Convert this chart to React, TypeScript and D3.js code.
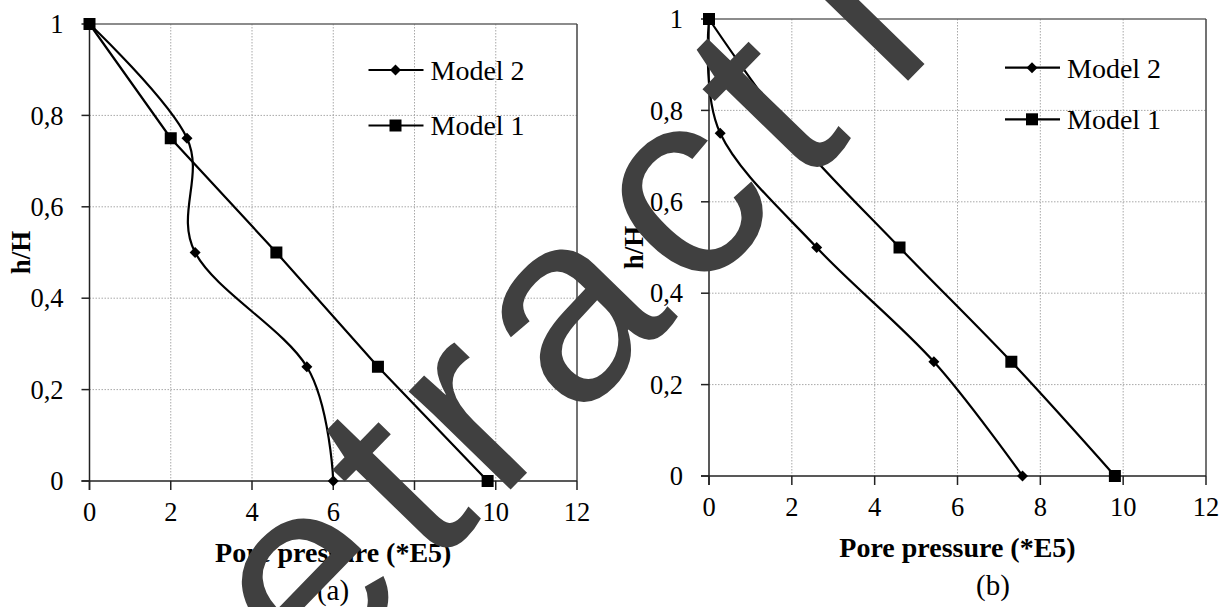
import React from "react";
import * as d3 from "d3";

// h/H levels shared by every series
const levels = [1, 0.75, 0.5, 0.25, 0];

// pore pressure (*E5)
const aModel1 = [0, 2, 4.6, 7.1, 9.8];
const aModel2 = [0, 2.4, 2.6, 5.35, 6.0];
const bModel1 = [0, 2, 4.6, 7.3, 9.8];
const bModel2 = [0, 0.27, 2.6, 5.43, 7.57];

const xTicks = [0, 2, 4, 6, 8, 10, 12];
const yTicks = [0, 0.2, 0.4, 0.6, 0.8, 1];
const yTickLabels = ["0", "0,2", "0,4", "0,6", "0,8", "1"];

const seriesNames = ["Model 2", "Model 1"];

const serif = "'Liberation Serif', 'Times New Roman', serif";

const diamond = (r) => `M0,${-r}L${r},0L0,${r}L${-r},0Z`;

function Panel({ x0, x1, y0, y1, m1, m2, smooth1, caption, capX, legX, legY, yTitleX }) {
  const x = d3.scaleLinear().domain([0, 12]).range([x0, x1]);
  const y = d3.scaleLinear().domain([0, 1]).range([y1, y0]);

  const pts1 = m1.map((v, i) => [x(v), y(levels[i])]);
  const pts2 = m2.map((v, i) => [x(v), y(levels[i])]);

  const line1 = d3.line().curve(smooth1 ? d3.curveCatmullRom.alpha(0) : d3.curveLinear);
  const line2 = d3.line().curve(d3.curveCatmullRom.alpha(0));

  const cx = (x0 + x1) / 2;
  const cy = (y0 + y1) / 2;

  return (
    <g>
      {/* grid */}
      {xTicks.slice(1, -1).map((t) => (
        <line key={"gx" + t} x1={x(t)} x2={x(t)} y1={y0} y2={y1} stroke="#a8a8a8" strokeWidth={1} strokeDasharray="1.5,1.5" />
      ))}
      {yTicks.slice(1, -1).map((t) => (
        <line key={"gy" + t} x1={x0} x2={x1} y1={y(t)} y2={y(t)} stroke="#a8a8a8" strokeWidth={1} strokeDasharray="1.5,1.5" />
      ))}
      {/* frame */}
      <line x1={x0} x2={x1} y1={y0} y2={y0} stroke="#666" strokeWidth={1.5} />
      <line x1={x1} x2={x1} y1={y0} y2={y1} stroke="#444" strokeWidth={1.5} />
      <line x1={x0} x2={x0} y1={y0} y2={y1 + 9} stroke="#222" strokeWidth={1.5} />
      <line x1={x0 - 8} x2={x1} y1={y1} y2={y1} stroke="#222" strokeWidth={1.5} />
      {xTicks.map((t) => (
        <g key={"xt" + t}>
          <line x1={x(t)} x2={x(t)} y1={y1} y2={y1 + 9} stroke="#222" strokeWidth={1.5} />
          <text x={x(t)} y={y1 + 40} textAnchor="middle" fontFamily={serif} fontSize={26.5}>
            {t}
          </text>
        </g>
      ))}
      {yTicks.map((t, i) => (
        <g key={"yt" + t}>
          <line x1={x0 - 8} x2={x0} y1={y(t)} y2={y(t)} stroke="#222" strokeWidth={1.5} />
          <text x={x0 - 26} y={y(t)} dy="0.35em" textAnchor="end" fontFamily={serif} fontSize={26.5}>
            {yTickLabels[i]}
          </text>
        </g>
      ))}
      {/* series */}
      <path d={line1(pts1)} fill="none" stroke="#000" strokeWidth={2.2} />
      <path d={line2(pts2)} fill="none" stroke="#000" strokeWidth={2.2} />
      {pts1.map((p, i) => (
        <rect key={"s" + i} x={p[0] - 6} y={p[1] - 6} width={12} height={12} fill="#000" />
      ))}
      {pts2.map((p, i) => (
        <path key={"d" + i} d={diamond(5.5)} transform={`translate(${p[0]},${p[1]})`} fill="#000" />
      ))}
      {/* legend */}
      {seriesNames.map((name, i) => {
        const ly = legY[i];
        return (
          <g key={name}>
            <line x1={legX} x2={legX + 55} y1={ly} y2={ly} stroke="#000" strokeWidth={2.2} />
            {i === 0 ? (
              <path d={diamond(5.5)} transform={`translate(${legX + 27},${ly})`} fill="#000" />
            ) : (
              <rect x={legX + 21} y={ly - 6} width={12} height={12} fill="#000" />
            )}
            <text x={legX + 62} y={ly} dy="0.35em" fontFamily={serif} fontSize={28}>
              {name}
            </text>
          </g>
        );
      })}
      {/* titles */}
      <text x={cx} y={y1 + 81} textAnchor="middle" fontFamily={serif} fontWeight="bold" fontSize={28}>
        Pore pressure (*E5)
      </text>
      <text transform={`translate(${yTitleX},${cy}) rotate(-90)`} textAnchor="middle" fontFamily={serif} fontWeight="bold" fontSize={27}>
        h/H
      </text>
      <text x={capX} y={y1 + 119} textAnchor="middle" fontFamily={serif} fontSize={29}>
        {caption}
      </text>
    </g>
  );
}

export default function App() {
  return (
    <svg width={1231} height={607} style={{ position: "absolute", left: 0, top: 0, background: "#fff" }}>
      <rect width={1231} height={607} fill="#fff" />
      <Panel x0={89.5} x1={577} y0={24} y1={481} m1={aModel1} m2={aModel2} smooth1={false}
        caption="(a)" capX={333} legX={368.5} legY={[70, 125.5]} yTitleX={30} />
      <Panel x0={709} x1={1206} y0={19} y1={476} m1={bModel1} m2={bModel2} smooth1={true}
        caption="(b)" capX={993} legX={1005} legY={[67.7, 119.3]} yTitleX={643} />
      {/* diagonal watermark */}
      <text transform="translate(163,847) rotate(-45.8)" textAnchor="start"
        fontFamily="'Liberation Sans', Arial, sans-serif" fontSize={268} letterSpacing={21} fill="#404040">
        Retract<tspan dx={40}>i</tspan><tspan dx={70}>on</tspan>
      </text>
    </svg>
  );
}
